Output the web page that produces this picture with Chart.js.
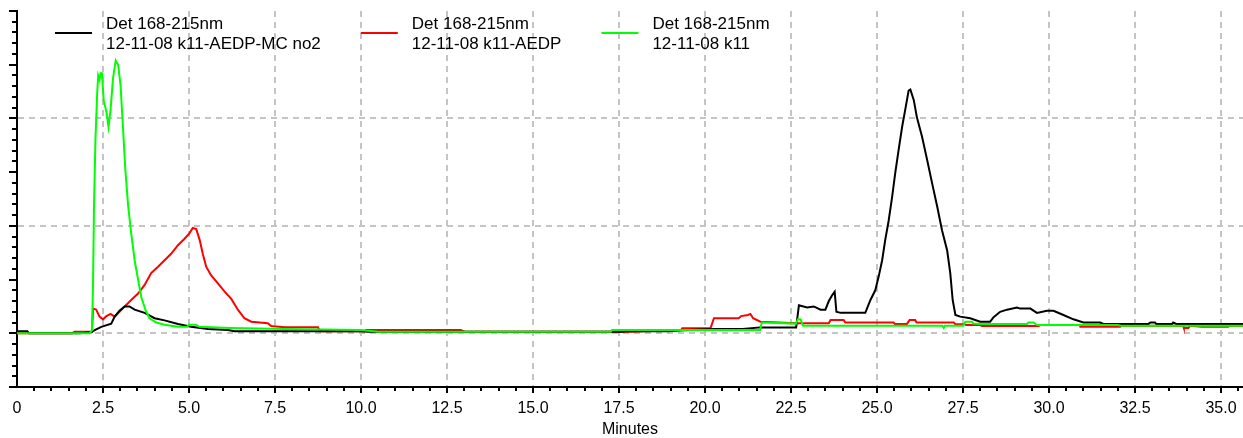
<!DOCTYPE html>
<html><head><meta charset="utf-8">
<script src="https://cdn.jsdelivr.net/npm/chart.js@4.4.1/dist/chart.umd.min.js"></script>
<style>html,body{margin:0;padding:0;background:#fff;overflow:hidden}#wrap{width:1243px;height:438px;position:relative}</style>
</head><body><div id="wrap"><canvas id="c"></canvas></div>
<script>
const seriesLabels = [
  ["Det 168-215nm", "12-11-08 k11-AEDP-MC no2"],
  ["Det 168-215nm", "12-11-08 k11-AEDP"],
  ["Det 168-215nm", "12-11-08 k11"]
];
const seriesColors = ["#000000", "#ff0000", "#00ff00"];
const xTickValues = [0, 2.5, 5, 7.5, 10, 12.5, 15, 17.5, 20, 22.5, 25, 27.5, 30, 32.5, 35];
const yGridValues = [0, 1, 2];
const xRange = [0, 35.64];
const yRange = [-0.5, 3.0];
const axisTitle = "Minutes";

// k11-AEDP-MC no2 (black)
const blackTime = [0,0.3,0.35,1.82,2.16,2.26,2.45,2.74,2.84,2.98,3.13,3.27,3.42,3.71,4.0,4.29,4.68,5.06,5.55,6.13,6.32,10,10.2,17.6,17.7,18.9,19.5,20.3,21.1,21.6,22.65,22.73,22.97,23.16,23.36,23.5,23.6,23.7,23.77,23.82,23.94,24.66,24.81,24.95,25.05,25.15,25.24,25.34,25.44,25.53,25.63,25.73,25.82,25.92,25.97,26.07,26.16,26.31,26.46,26.6,26.75,26.89,27.04,27.13,27.2,27.28,27.42,27.71,28.0,28.29,28.39,28.58,28.78,29.07,29.16,29.46,29.65,29.94,30.13,30.42,30.71,31.0,31.49,31.58,32.89,32.95,33.08,33.12,33.58,33.61,33.7,35.64];
const blackValue = [0.02,0.02,0,0,0.01,0.03,0.06,0.09,0.155,0.21,0.25,0.25,0.22,0.19,0.14,0.12,0.087,0.06,0.04,0.03,0.02,0.02,0.015,0.015,0.02,0.02,0.03,0.04,0.04,0.055,0.055,0.26,0.24,0.25,0.22,0.22,0.30,0.356,0.387,0.2,0.19,0.19,0.31,0.40,0.53,0.68,0.87,1.05,1.27,1.49,1.71,1.92,2.08,2.26,2.27,2.17,2.01,1.83,1.61,1.40,1.18,0.96,0.77,0.56,0.31,0.17,0.155,0.14,0.108,0.108,0.15,0.2,0.22,0.24,0.23,0.23,0.19,0.21,0.21,0.17,0.13,0.10,0.10,0.087,0.087,0.1,0.1,0.087,0.087,0.1,0.087,0.087];

// k11-AEDP (red)
const redTime = [0,1.6,1.67,2.18,2.21,2.3,2.4,2.5,2.6,2.72,2.84,2.98,3.13,3.32,3.52,3.71,3.9,4.1,4.29,4.48,4.68,4.87,5.01,5.11,5.21,5.31,5.4,5.5,5.64,5.84,6.03,6.23,6.42,6.61,6.81,7.29,7.39,7.77,8.75,8.8,10.1,10.14,12.9,13.0,17.35,17.8,19.3,19.34,20.16,20.26,20.98,21.05,21.25,21.32,21.4,21.61,22.68,23.6,23.65,24.03,24.08,25.48,25.52,25.87,25.95,26.11,26.15,27.23,27.28,27.52,27.6,28.0,28.05,29.7,29.75,30.9,30.91,32.07,32.1,33.9,33.92,34.05,34.1,34.44,35.21,35.25,35.64];
const redValue = [0,0,0.015,0.015,0.23,0.22,0.155,0.13,0.16,0.18,0.155,0.2,0.25,0.31,0.37,0.45,0.56,0.62,0.68,0.74,0.82,0.88,0.93,0.98,0.97,0.87,0.74,0.62,0.54,0.465,0.39,0.32,0.22,0.14,0.108,0.093,0.068,0.056,0.056,0.02,0.02,0.03,0.03,0.015,0.015,0.015,0.03,0.047,0.047,0.14,0.14,0.16,0.17,0.18,0.14,0.108,0.093,0.093,0.124,0.124,0.10,0.10,0.087,0.087,0.124,0.124,0.10,0.10,0.085,0.085,0.077,0.077,0.068,0.068,0.077,0.077,0.062,0.062,0.07,0.07,0.05,0.05,0.07,0.062,0.062,0.07,0.07];

// k11 (green)
const greenTime = [0,2.11,2.18,2.21,2.24,2.28,2.33,2.36,2.4,2.43,2.47,2.52,2.6,2.66,2.72,2.79,2.87,2.94,3.01,3.08,3.15,3.23,3.32,3.42,3.52,3.61,3.73,3.85,4.05,4.29,4.68,4.95,5.0,5.2,5.3,6.2,7.8,10,10.5,17.26,17.3,21.6,21.65,22.65,22.7,22.78,22.85,26.9,26.94,26.97,27.5,27.57,27.76,27.8,28.0,29.36,29.4,29.55,29.65,32.0,32.1,35.64];
const greenValue = [0,0,0.03,0.45,1.21,1.8,2.23,2.4,2.36,2.42,2.42,2.17,2.06,1.92,2.08,2.37,2.54,2.5,2.31,1.92,1.52,1.19,0.93,0.68,0.5,0.34,0.22,0.14,0.1,0.08,0.06,0.06,0.08,0.08,0.06,0.05,0.04,0.03,0.015,0.015,0.03,0.03,0.10,0.09,0.13,0.13,0.07,0.07,0.05,0.07,0.07,0.108,0.108,0.09,0.087,0.087,0.1,0.1,0.077,0.077,0.07,0.07];

const FONT = "'Liberation Sans', Arial, sans-serif";
const GRID = '#c4c4c4';

function pts(t, v) { return t.map((x, i) => ({ x: x, y: v[i] })); }

const axisTicksPlugin = {
  id: 'axisTicks',
  afterDraw(chart) {
    const ctx = chart.ctx, ca = chart.chartArea;
    const xs = chart.scales.x, ys = chart.scales.y;
    ctx.save();
    ctx.strokeStyle = '#000';
    ctx.lineWidth = 2;
    ctx.beginPath();
    for (let k = Math.round(yRange[0] * 10); k <= Math.round(yRange[1] * 10); k++) {
      const v = k / 10;
      const py = Math.round(ys.getPixelForValue(v));
      const len = (k % 5 === 0) ? 8 : 5;
      ctx.moveTo(ca.left - len, py);
      ctx.lineTo(ca.left, py);
    }
    for (let k = 1; k * 0.5 <= xRange[1]; k++) {
      const v = k * 0.5;
      const px = Math.round(xs.getPixelForValue(v));
      const len = (k % 5 === 0) ? 6 : 4;
      ctx.moveTo(px, ca.bottom);
      ctx.lineTo(px, ca.bottom + len);
    }
    ctx.moveTo(ca.left - 8, ca.bottom);
    ctx.lineTo(ca.left, ca.bottom);
    ctx.stroke();
    ctx.restore();
  }
};

const legendPlugin = {
  id: 'twoLineLegend',
  afterDraw(chart) {
    const ctx = chart.ctx;
    ctx.save();
    ctx.font = '17px ' + FONT;
    ctx.textBaseline = 'middle';
    ctx.textAlign = 'left';
    let x = 55;
    const yLine = 33;
    seriesLabels.forEach((lines, i) => {
      ctx.strokeStyle = seriesColors[i];
      ctx.lineWidth = 2;
      ctx.beginPath();
      ctx.moveTo(x, yLine);
      ctx.lineTo(x + 37, yLine);
      ctx.stroke();
      ctx.fillStyle = '#000';
      let w = 0;
      lines.forEach((s, j) => {
        ctx.fillText(s, x + 51, 24 + j * 20);
        w = Math.max(w, ctx.measureText(s).width);
      });
      x = x + 51 + w + 40;
    });
    ctx.restore();
  }
};

new Chart(document.getElementById('c'), {
  type: 'line',
  data: {
    datasets: [
      { label: seriesLabels[0].join(' '), data: pts(blackTime, blackValue), borderColor: seriesColors[0], order: 1 },
      { label: seriesLabels[1].join(' '), data: pts(redTime, redValue), borderColor: seriesColors[1], order: 2 },
      { label: seriesLabels[2].join(' '), data: pts(greenTime, greenValue), borderColor: seriesColors[2], order: 0 }
    ]
  },
  options: {
    responsive: true,
    maintainAspectRatio: false,
    animation: false,
    devicePixelRatio: 1,
    layout: { padding: { top: 11, left: 17, right: 0, bottom: 0 } },
    elements: {
      line: { borderWidth: 2, tension: 0, fill: false, borderJoinStyle: 'miter' },
      point: { radius: 0, hoverRadius: 0 }
    },
    plugins: { legend: { display: false }, tooltip: { enabled: false } },
    scales: {
      x: {
        type: 'linear',
        min: xRange[0], max: xRange[1],
        afterBuildTicks: s => { s.ticks = xTickValues.map(v => ({ value: v })); },
        afterFit: s => { s.height = 51; s.paddingRight = 0; s.paddingLeft = 0; },
        ticks: {
          autoSkip: false, maxRotation: 0, padding: 12, color: '#000',
          font: { family: FONT, size: 16 },
          callback: v => v === 0 ? '0' : Number(v).toFixed(1)
        },
        grid: {
          drawTicks: false, lineWidth: 2,
          color: c => (c.tick && c.tick.value === 0) ? 'rgba(0,0,0,0)' : GRID
        },
        border: { display: true, color: '#000', width: 2, dash: [6, 5] },
        title: { display: true, text: axisTitle, color: '#000', font: { family: FONT, size: 16, lineHeight: 1 }, padding: { top: 0, bottom: 0 } }
      },
      y: {
        type: 'linear',
        min: yRange[0], max: yRange[1],
        afterBuildTicks: s => { s.ticks = yGridValues.map(v => ({ value: v })); },
        afterFit: s => { s.width = 0; },
        ticks: { display: false },
        grid: { drawTicks: false, lineWidth: 2, color: GRID },
        border: { display: true, color: '#000', width: 2, dash: [6, 5] }
      }
    }
  },
  plugins: [axisTicksPlugin, legendPlugin]
});
</script>
</body></html>
